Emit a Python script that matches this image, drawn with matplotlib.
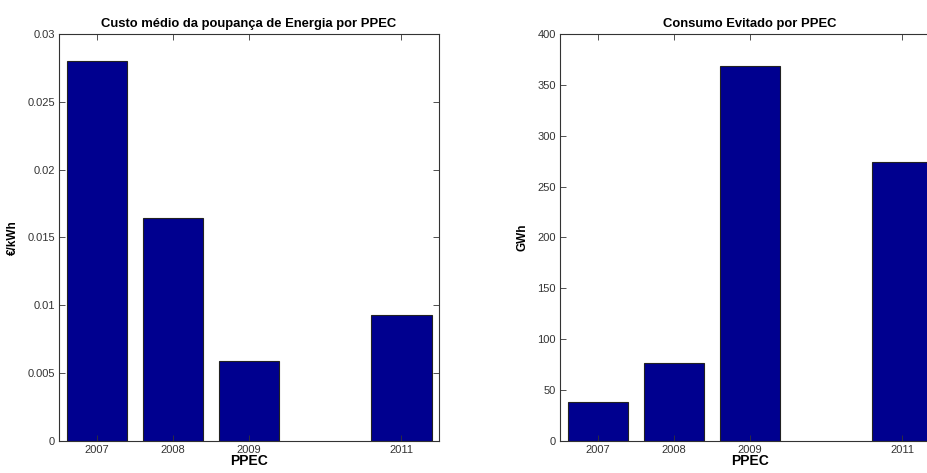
import matplotlib
matplotlib.use("Agg")
import matplotlib.pyplot as plt

years = [2007, 2008, 2009, 2011]
custo = [0.028, 0.0164, 0.0059, 0.0093]
consumo = [38.5, 77, 369, 274]

plt.rcParams['font.family'] = ['Liberation Sans', 'DejaVu Sans']

fig = plt.figure(figsize=(9.28, 4.73), dpi=100)

def draw(ax, values, title, ylabel, ylim, yticks, yticklabels):
    ax.bar(years, values, width=0.8, color='#00008f', edgecolor='#222222', linewidth=0.8)
    ax.set_xlim(2006.5, 2011.5)
    ax.set_ylim(*ylim)
    ax.set_xticks(years)
    ax.set_xticklabels([str(y) for y in years])
    ax.set_yticks(yticks)
    ax.set_yticklabels(yticklabels)
    ax.tick_params(direction='in', top=True, right=True, length=4, width=0.6,
                   labelsize=8, colors='#333333', pad=3)
    for s in ax.spines.values():
        s.set_linewidth(0.8)
        s.set_color('#333333')
    ax.set_title(title, fontsize=9.4, fontweight='bold', pad=5)
    ax.set_xlabel('PPEC', fontsize=10, fontweight='bold', labelpad=-1)
    ax.set_ylabel(ylabel, fontsize=8.5, fontweight='bold', labelpad=6)

ax1 = fig.add_axes([0.0636, 0.0677, 0.4096, 0.8605])
draw(ax1, custo, 'Custo médio da poupança de Energia por PPEC', '€/kWh',
     (0, 0.03), [0, 0.005, 0.01, 0.015, 0.02, 0.025, 0.03],
     ['0', '0.005', '0.01', '0.015', '0.02', '0.025', '0.03'])

ax2 = fig.add_axes([0.6034, 0.0677, 0.4096, 0.8605])
draw(ax2, consumo, 'Consumo Evitado por PPEC', 'GWh',
     (0, 400), list(range(0, 401, 50)), [str(v) for v in range(0, 401, 50)])

fig.savefig('out.png', dpi=100)
